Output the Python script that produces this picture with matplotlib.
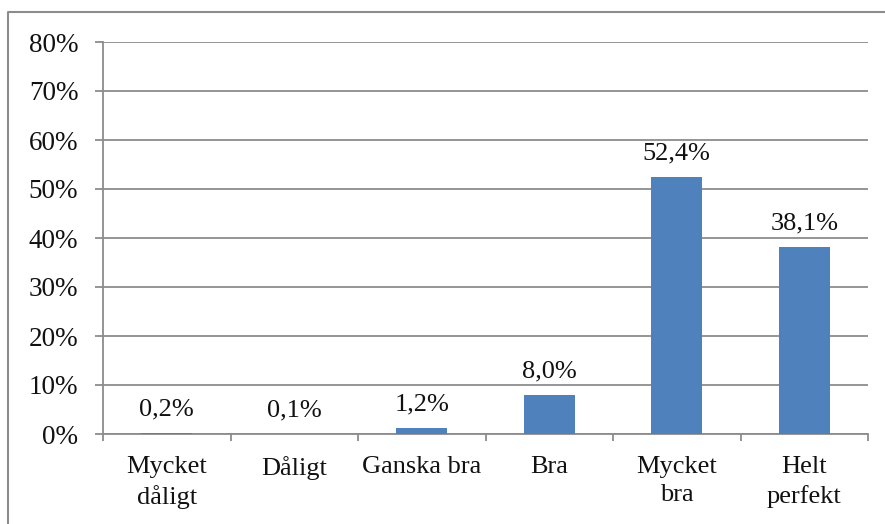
import numpy as np
import matplotlib.pyplot as plt
from matplotlib.lines import Line2D

categories = ["Mycket\ndåligt", "Dåligt", "Ganska bra", "Bra", "Mycket\nbra", "Helt\nperfekt"]
values = [0.2, 0.1, 1.2, 8.0, 52.4, 38.1]
value_labels = ["0,2%", "0,1%", "1,2%", "8,0%", "52,4%", "38,1%"]
y_ticks = [0, 10, 20, 30, 40, 50, 60, 70, 80]

plt.rcParams['font.family'] = ['Liberation Serif', 'DejaVu Serif']

W, H = 885, 524
fig = plt.figure(figsize=(W / 100, H / 100), dpi=100)

# plot area in pixels
left, right, top, bottom = 103, 868, 42, 434
ax = fig.add_axes([left / W, 1 - bottom / H, (right - left) / W, (bottom - top) / H])

x = np.arange(len(categories))
ax.bar(x, values, width=0.4, color="#4F81BD", zorder=3)

for xi, v, lab in zip(x, values, value_labels):
    ax.annotate(lab, (xi, v), xytext=(0, 9), textcoords="offset points",
                ha="center", va="bottom", fontsize=19, color="#111111")

ax.set_xlim(-0.5, len(categories) - 0.5)
ax.set_ylim(0, 80)
ax.set_yticks(y_ticks)
ax.set_yticklabels([f"{t}%" for t in y_ticks], fontsize=19.5, color="#111111")
ax.yaxis.grid(True, color="#8c8c8c", linewidth=1.3, zorder=0)

ax.set_xticks(np.arange(len(categories) + 1) - 0.5)
ax.set_xticklabels([])
ax.set_xticks(x, minor=True)
ax.set_xticklabels(categories, minor=True, fontsize=19, linespacing=1.35, color="#111111")
ax.tick_params(axis="x", which="minor", length=0, pad=16)
ax.tick_params(axis="x", which="major", length=5, color="#8c8c8c", width=1.3)
ax.tick_params(axis="y", length=5.8, color="#8c8c8c", width=1.3, pad=12)

for s in ["top", "right"]:
    ax.spines[s].set_visible(False)
for s in ["left", "bottom"]:
    ax.spines[s].set_color("#8c8c8c")
    ax.spines[s].set_linewidth(1.3)

# chart area border (left and top edges are visible)
bx, by = 8 / W, 1 - 12 / H
fig.lines.append(Line2D([bx, bx, 1.0], [0.0, by, by], transform=fig.transFigure,
                        color="#8c8c8c", linewidth=1.5))

fig.savefig("out.png", dpi=100)
